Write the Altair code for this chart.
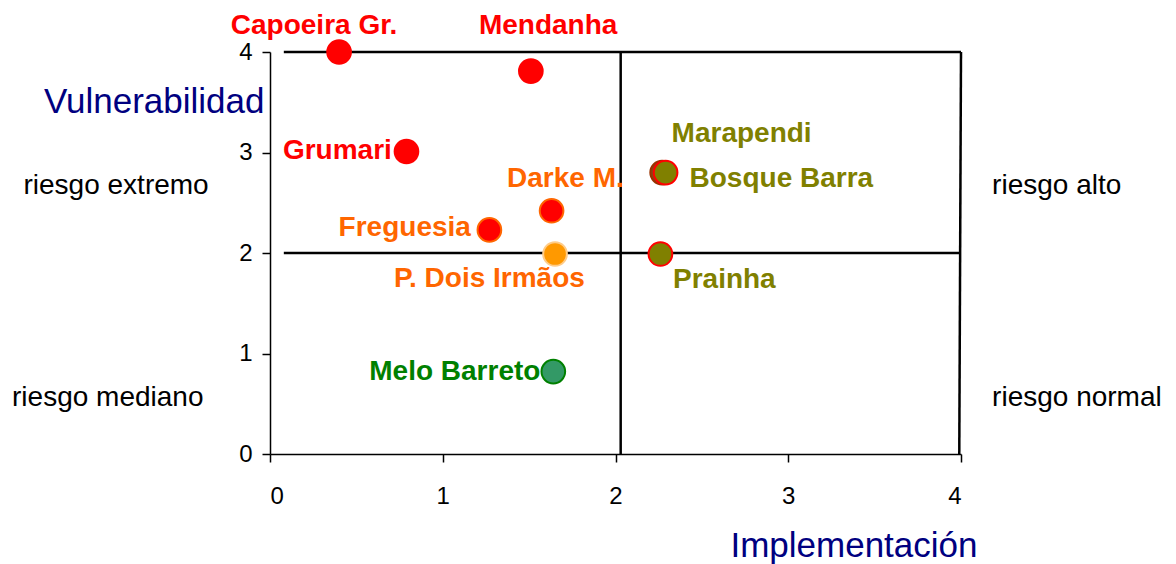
import altair as alt
import pandas as pd

# Points
names = ["Capoeira Gr.", "Mendanha", "Grumari", "Darke M.", "Freguesia",
         "P. Dois Irmãos", "Marapendi", "Bosque Barra", "Prainha", "Melo Barreto"]
impl = [0.40, 1.51, 0.79, 1.63, 1.27, 1.65, 2.27, 2.29, 2.26, 1.64]
vuln = [4.00, 3.81, 3.01, 2.42, 2.23, 1.99, 2.80, 2.80, 1.99, 0.82]
fills = ["#FF0000", "#FF0000", "#FF0000", "#FF0000", "#FF0000",
         "#FF9900", "#8B4513", "#808000", "#808000", "#339966"]
strokes = ["#FF0000", "#FF0000", "#FF0000", "#FF6600", "#FF6600",
           "#FFCC88", "#993300", "#FF0000", "#FF0000", "#008000"]
text_colors = ["#FF0000", "#FF0000", "#FF0000", "#FF6600", "#FF6600",
               "#FF6600", "#808000", "#808000", "#808000", "#008000"]
label_x = [0.255, 1.61, 0.39, 1.71, 0.78, 1.27, 2.73, 2.96, 2.63, 1.07]
label_y = [4.26, 4.26, 3.01, 2.74, 2.25, 1.74, 3.18, 2.74, 1.73, 0.82]

# Quadrant lines
seg_x1 = [0.08, 0.08, 2.03, 4.0]
seg_x2 = [4.0, 4.0, 2.03, 3.99]
seg_y1 = [4.0, 2.0, 4.0, 4.0]
seg_y2 = [4.0, 2.0, 0.0, 0.0]

# Quadrant names
quad_text = ["riesgo extremo", "riesgo alto", "riesgo mediano", "riesgo normal"]
quad_x = [-0.355, 4.18, -0.385, 4.18]
quad_y = [2.67, 2.67, 0.56, 0.56]
quad_align = ["right", "left", "right", "left"]

pts = pd.DataFrame({"name": names, "impl": impl, "vuln": vuln,
                    "fill": fills, "stroke": strokes})
lbl = pd.DataFrame({"name": names, "lx": label_x, "ly": label_y, "color": text_colors})
seg = pd.DataFrame({"x1": seg_x1, "x2": seg_x2, "y1": seg_y1, "y2": seg_y2})
quad = pd.DataFrame({"t": quad_text, "x": quad_x, "y": quad_y, "a": quad_align})

xs = alt.Scale(domain=[0, 4], nice=False, zero=False)
ys = alt.Scale(domain=[0, 4], nice=False, zero=False)

common = dict(grid=False, format="d", domainColor="black", domainWidth=1.5,
              tickColor="black", tickWidth=1.5, tickSize=8,
              labelFont="Liberation Sans", labelFontSize=24, labelColor="black",
              titleFont="Liberation Sans", titleFontSize=35, titleFontWeight="normal",
              titleColor="#000080")

xaxis = alt.Axis(values=[0, 1, 2, 3, 4], title="Implementación",
                 titleX=707, titleY=91, titleAlign="right", titleBaseline="middle",
                 labelPadding=22, **common)
yaxis = alt.Axis(values=[0, 1, 2, 3, 4], title="Vulnerabilidad",
                 titleAngle=0, titleX=-6, titleY=49, titleAlign="right",
                 titleBaseline="middle", labelPadding=10, **common)

rules = alt.Chart(seg).mark_rule(color="black", strokeWidth=2.5).encode(
    x=alt.X("x1:Q", scale=xs, axis=xaxis),
    x2="x2:Q",
    y=alt.Y("y1:Q", scale=ys, axis=yaxis),
    y2="y2:Q",
)

points = alt.Chart(pts).mark_circle(size=560, opacity=1, strokeWidth=2).encode(
    x=alt.X("impl:Q", scale=xs),
    y=alt.Y("vuln:Q", scale=ys),
    fill=alt.Fill("fill:N", scale=None),
    stroke=alt.Stroke("stroke:N", scale=None),
    order=alt.Order("impl:Q"),
)

labels = alt.Chart(lbl).mark_text(font="Liberation Sans", fontSize=28, fontWeight="bold",
                                  align="center", baseline="middle").encode(
    x=alt.X("lx:Q", scale=xs),
    y=alt.Y("ly:Q", scale=ys),
    text="name:N",
    color=alt.Color("color:N", scale=None),
)

qlabels = []
for al in ["left", "right"]:
    qlabels.append(
        alt.Chart(quad[quad["a"] == al]).mark_text(
            font="Liberation Sans", fontSize=28, align=al, baseline="middle", color="black"
        ).encode(
            x=alt.X("x:Q", scale=xs),
            y=alt.Y("y:Q", scale=ys),
            text="t:N",
        )
    )

chart = alt.layer(rules, points, labels, *qlabels).properties(
    width=691, height=402,
    padding={"left": 4, "top": 3, "right": 2, "bottom": 2},
).configure_view(stroke=None)

chart.save("out.html", embed_options={"renderer": "svg", "actions": False})
